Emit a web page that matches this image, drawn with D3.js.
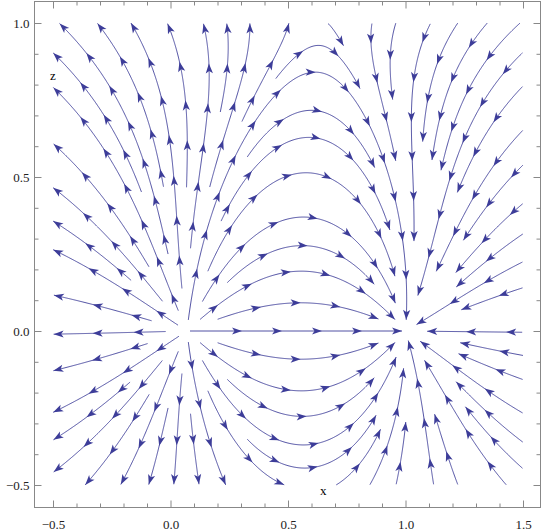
<!DOCTYPE html>
<html>
<head>
<meta charset="utf-8">
<script src="https://cdn.jsdelivr.net/npm/d3@7"></script>
<style>
  body { margin: 0; background: #fff; }
  text { font-family: "Liberation Serif", "Times New Roman", serif; }
</style>
</head>
<body>
<div id="chart"></div>
<script>
// field: two line charges (source, sink) plus a uniform background field
const chargeX = [0.07, 1.0];
const chargeZ = [0, 0];
const chargeQ = [1, -0.85];
const uniformField = [-0.65, 0];

const xTicks = [-0.5, 0.0, 0.5, 1.0, 1.5];
const zTicks = [-0.5, 0.0, 0.5, 1.0];
const xMinor = d3.range(-0.8, 1.81, 0.1).map(v => +v.toFixed(1));
const zMinor = d3.range(-0.5, 1.01, 0.1).map(v => +v.toFixed(1));

const width = 545, height = 532;
const frame = {left: 34.5, right: 540.5, top: 1.5, bottom: 507.5};
const color = "#3d3d99";

const x = d3.scaleLinear().domain([-0.5, 1.5]).range([53, 523]);
const z = d3.scaleLinear().domain([-0.5, 1.0]).range([485, 23]);

const svg = d3.select("#chart").append("svg")
    .attr("width", width)
    .attr("height", height);

// ---- streamlines (evenly spaced, traced in pixel space) ----
const dSep = 23, dTest = 11, minLen = 22, arrowGap = 40;
const sx = x(1) - x(0), sz = z(1) - z(0);
const box = [x(-0.5), x(1.5), z(1.0), z(-0.5)];
const poles = chargeX.map((c, i) => [x(c), z(chargeZ[i])]);

function dir(px, py) {
  const dx = x.invert(px), dz = z.invert(py);
  let ex = uniformField[0], ez = uniformField[1];
  for (let i = 0; i < chargeQ.length; i++) {
    const rx = dx - chargeX[i], rz = dz - chargeZ[i];
    const r2 = rx * rx + rz * rz;
    ex += chargeQ[i] * rx / r2;
    ez += chargeQ[i] * rz / r2;
  }
  const vx = ex * sx, vy = ez * sz;
  const m = Math.hypot(vx, vy);
  return m > 1e-9 ? [vx / m, vy / m] : null;
}

function advance(p, s) {
  const k1 = dir(p[0], p[1]);
  if (!k1) return null;
  const k2 = dir(p[0] + s * k1[0] * 0.5, p[1] + s * k1[1] * 0.5);
  if (!k2) return null;
  return [p[0] + s * k2[0], p[1] + s * k2[1]];
}

const outside = p => p[0] < box[0] || p[0] > box[1] || p[1] < box[2] || p[1] > box[3];
const nearPole = p => poles.some(c => Math.hypot(p[0] - c[0], p[1] - c[1]) < 3);

const grid = new Map();
const key = (i, j) => i + "," + j;
function addPoint(p) {
  const k = key(Math.floor(p[0] / dSep), Math.floor(p[1] / dSep));
  if (!grid.has(k)) grid.set(k, []);
  grid.get(k).push(p);
}
function tooClose(p, d) {
  const ci = Math.floor(p[0] / dSep), cj = Math.floor(p[1] / dSep);
  for (let i = ci - 1; i <= ci + 1; i++)
    for (let j = cj - 1; j <= cj + 1; j++) {
      const pts = grid.get(key(i, j));
      if (!pts) continue;
      for (const q of pts) if (Math.hypot(p[0] - q[0], p[1] - q[1]) < d) return true;
    }
  return false;
}

function trace(seed) {
  const parts = [];
  for (const s of [1, -1]) {
    const arr = [];
    let p = seed;
    for (let n = 0; n < 2500; n++) {
      const q = advance(p, s);
      if (!q || outside(q) || nearPole(q) || tooClose(q, dTest)) break;
      arr.push(q);
      p = q;
    }
    parts.push(arr);
  }
  return parts[1].reverse().concat([seed], parts[0]);
}

const lines = [];
function accept(pts) {
  if (pts.length < minLen) return;
  lines.push(pts);
  pts.forEach(addPoint);
}

accept(trace([x(0.5), z(0)]));
for (let i = 0; i < lines.length; i++) {
  const L = lines[i];
  for (let k = 0; k < L.length; k += 3) {
    const p = L[k], d = dir(p[0], p[1]);
    if (!d) continue;
    for (const sg of [1, -1]) {
      const c = [p[0] - sg * d[1] * dSep, p[1] + sg * d[0] * dSep];
      if (outside(c) || nearPole(c) || tooClose(c, dSep * 0.98)) continue;
      accept(trace(c));
    }
  }
}

const g = svg.append("g");
g.selectAll("path.stream")
  .data(lines)
  .join("path")
    .attr("class", "stream")
    .attr("d", d3.line())
    .attr("fill", "none")
    .attr("stroke", color)
    .attr("stroke-width", 0.9);

// arrowheads: at the end of each line, then every arrowGap px backwards
const arrows = [];
lines.forEach(L => {
  const cum = [0];
  for (let k = 1; k < L.length; k++)
    cum.push(cum[k - 1] + Math.hypot(L[k][0] - L[k - 1][0], L[k][1] - L[k - 1][1]));
  const total = cum[cum.length - 1];
  for (let s = total; s >= 14; s -= arrowGap) {
    const k = Math.max(1, d3.bisectLeft(cum, s));
    const a = L[k - 1], b = L[k];
    arrows.push({p: b, ang: Math.atan2(b[1] - a[1], b[0] - a[0]) * 180 / Math.PI});
  }
});

g.selectAll("path.arrow")
  .data(arrows)
  .join("path")
    .attr("class", "arrow")
    .attr("d", "M0,0L-10,-3.6L-7.5,0L-10,3.6Z")
    .attr("transform", d => `translate(${d.p[0]},${d.p[1]}) rotate(${d.ang})`)
    .attr("fill", color);

// ---- frame and ticks ----
svg.append("rect")
    .attr("x", frame.left).attr("y", frame.top)
    .attr("width", frame.right - frame.left)
    .attr("height", frame.bottom - frame.top)
    .attr("fill", "none")
    .attr("stroke", "#888");

function ticks(axisFn, scale, values, size, pos, labels) {
  const a = svg.append("g")
      .attr("transform", pos)
      .call(axisFn(scale).tickValues(values).tickSize(size).tickPadding(labels ? 5 : 0)
        .tickFormat(labels ? d3.format(".1f") : ""));
  a.select(".domain").remove();
  a.selectAll("line").attr("stroke", "#888");
  a.selectAll("text").attr("fill", "#222").style("font-size", "13px")
    .style("font-family", '"Liberation Serif", "Times New Roman", serif');
  return a;
}

const xm = xMinor.filter(v => x(v) > frame.left + 1 && x(v) < frame.right - 1 && !xTicks.includes(v));
const zm = zMinor.filter(v => !zTicks.includes(v));

const bx = ticks(d3.axisBottom, x, xTicks, -7, `translate(0,${frame.bottom})`, true);
bx.selectAll("text").attr("dy", "1.25em");
ticks(d3.axisBottom, x, xm, -4, `translate(0,${frame.bottom})`, false);
ticks(d3.axisTop, x, xTicks, -7, `translate(0,${frame.top})`, false);
ticks(d3.axisTop, x, xm, -4, `translate(0,${frame.top})`, false);
const lz = ticks(d3.axisLeft, z, zTicks, -7, `translate(${frame.left},0)`, true);
lz.selectAll("text").attr("x", -5);
ticks(d3.axisLeft, z, zm, -4, `translate(${frame.left},0)`, false);
ticks(d3.axisRight, z, zTicks, -7, `translate(${frame.right},0)`, false);
ticks(d3.axisRight, z, zm, -4, `translate(${frame.right},0)`, false);

svg.append("text").attr("x", 50).attr("y", 80).style("font-size", "13px").text("z");
svg.append("text").attr("x", 320).attr("y", 495).style("font-size", "13px").text("x");
</script>
</body>
</html>
